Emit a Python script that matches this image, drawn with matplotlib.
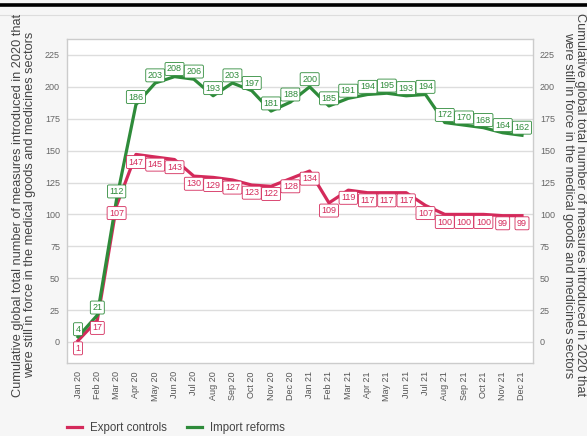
import matplotlib.pyplot as plt
from matplotlib.lines import Line2D

months = ["Jan 20", "Feb 20", "Mar 20", "Apr 20", "May 20", "Jun 20",
          "Jul 20", "Aug 20", "Sep 20", "Oct 20", "Nov 20", "Dec 20",
          "Jan 21", "Feb 21", "Mar 21", "Apr 21", "May 21", "Jun 21",
          "Jul 21", "Aug 21", "Sep 21", "Oct 21", "Nov 21", "Dec 21"]
export_controls = [1, 17, 107, 147, 145, 143, 130, 129, 127, 123, 122, 128,
                   134, 109, 119, 117, 117, 117, 107, 100, 100, 100, 99, 99]
import_reforms = [4, 21, 112, 186, 203, 208, 206, 193, 203, 197, 181, 188,
                  200, 185, 191, 194, 195, 193, 194, 172, 170, 168, 164, 162]
yticks = [0, 25, 50, 75, 100, 125, 150, 175, 200, 225]

RED = "#d42a5b"
GREEN = "#2e8b3a"
ylabel = ("Cumulative global total number of measures introduced in 2020 that\n"
          "were still in force in the medical goods and medicines sectors")

plt.rcParams['font.family'] = ['Liberation Sans', 'DejaVu Sans']

fig = plt.figure(figsize=(5.87, 4.36), dpi=100, facecolor="#f6f6f6")
ax = fig.add_axes([67 / 587, 1 - 363 / 436, (533 - 67) / 587, (363 - 39) / 436])
ax.set_facecolor("white")

# top rules
fig.add_artist(Line2D([0, 1], [1 - 5.5 / 436] * 2, color="black", lw=2.6))
fig.add_artist(Line2D([0, 1], [1 - 15 / 436] * 2, color="#dddddd", lw=0.8))

x = list(range(len(months)))
ax.plot(x, export_controls, color=RED, lw=2.3, solid_joinstyle="round", zorder=3)
ax.plot(x, import_reforms, color=GREEN, lw=2.3, solid_joinstyle="round", zorder=3)

for xi, v in zip(x, import_reforms):
    ax.annotate(str(v), (xi, v), xytext=(0, 5.5), textcoords="offset points",
                ha="center", va="center", fontsize=6.5, color=GREEN, zorder=5,
                bbox=dict(boxstyle="round,pad=0.22,rounding_size=0.15",
                          fc="white", ec=GREEN, lw=0.6))
for xi, v in zip(x, export_controls):
    ax.annotate(str(v), (xi, v), xytext=(0, -5.5), textcoords="offset points",
                ha="center", va="center", fontsize=6.5, color=RED, zorder=5,
                bbox=dict(boxstyle="round,pad=0.22,rounding_size=0.15",
                          fc="white", ec=RED, lw=0.6))

ax.set_xlim(-0.57, 23.57)
ax.set_ylim(-16.5, 237.5)
ax.set_xticks(x)
ax.set_xticklabels(months, rotation=90, fontsize=6.5, color="#555555")
ax.set_yticks(yticks)
ax.tick_params(axis="y", labelsize=6.5, labelcolor="#666666", length=0, pad=5,
               labelright=True, right=False)
ax.tick_params(axis="x", length=0, pad=6)
ax.grid(axis="y", color="#dddddd", lw=1)
ax.set_axisbelow(True)
for s in ax.spines.values():
    s.set_color("#cccccc")
    s.set_linewidth(1)

fig.text(24 / 587, 1 - 205 / 436, ylabel, rotation=90, ha="center", va="center",
         fontsize=9.2, color="#444444", multialignment="center", linespacing=1.0)
fig.text(574.5 / 587, 1 - 205 / 436, ylabel, rotation=270, ha="center", va="center",
         fontsize=9.2, color="#444444", multialignment="center", linespacing=1.0)

handles = [Line2D([], [], color=RED, lw=2.3), Line2D([], [], color=GREEN, lw=2.3)]
fig.legend(handles, ["Export controls", "Import reforms"], loc="center left",
           bbox_to_anchor=(67 / 587, 1 - 428 / 436), ncol=2, frameon=False,
           borderpad=0, borderaxespad=0, fontsize=8.3, handlelength=1.3,
           columnspacing=1.7, handletextpad=0.7, labelcolor="#444444")

fig.savefig("out.png", dpi=100, facecolor=fig.get_facecolor())
